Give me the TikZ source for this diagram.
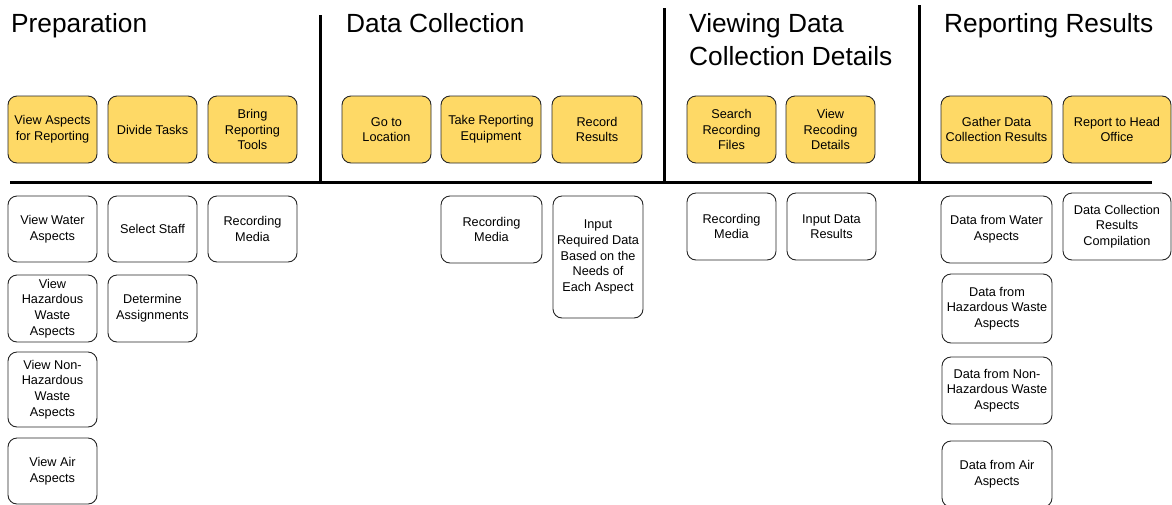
\documentclass[tikz,border=0pt]{standalone}
\usepackage{fontspec}
\setmainfont{Liberation Sans}
\begin{document}
\begin{tikzpicture}[x=1pt,y=-1pt,
  card/.style={draw=black!85, line width=0.9pt, rounded corners=9pt, align=center,
    inner sep=0pt, font=\fontsize{12.7}{15.6}\selectfont},
  ybox/.style={card, fill=ylw},
  wbox/.style={card, fill=white},
  title/.style={anchor=base west, inner sep=0pt, align=left, font=\fontsize{26.3}{33}\selectfont},
  sep/.style={line width=3pt, black}
]
\definecolor{ylw}{RGB}{254,217,102}
\useasboundingbox (0,0) rectangle (1172,504);

% titles
\node[title] (t1) at (11,32) {Preparation};
\node[title] (t2) at (346,32) {Data Collection};
\node[title] (t3) at (689,65) {Viewing Data\\Collection Details};
\node[title] (t4) at (944,32) {Reporting Results};

% separators
\coordinate (hl) at (10,182.5);
\coordinate (hr) at (1152,182.5);
\draw[sep] (hl) -- (hr);
\coordinate (v1t) at (320,15); \coordinate (v1b) at (320,183);
\coordinate (v2t) at (664,8);  \coordinate (v2b) at (664,183);
\coordinate (v3t) at (919,5);  \coordinate (v3b) at (919,182);
\draw[sep] (v1t) -- (v1b);
\draw[sep] (v2t) -- (v2b);
\draw[sep] (v3t) -- (v3b);

% yellow row
\node[ybox, minimum width=89, minimum height=67] (y1) at (52.5,129.5) {View Aspects\\for Reporting};
\node[ybox, minimum width=89, minimum height=67] (y2) at (152.5,129.5) {Divide Tasks};
\node[ybox, minimum width=89, minimum height=67] (y3) at (252.5,129.5) {Bring\\Reporting\\Tools};
\node[ybox, minimum width=89, minimum height=67] (y4) at (386.5,129.5) {Go to\\Location};
\node[ybox, minimum width=100, minimum height=67] (y5) at (491,129.5) {Take Reporting\\Equipment};
\node[ybox, minimum width=90, minimum height=67] (y6) at (597,129.5) {Record\\Results};
\node[ybox, minimum width=89, minimum height=67] (y7) at (731.5,129.5) {Search\\Recording\\Files};
\node[ybox, minimum width=89, minimum height=67] (y8) at (830.5,129.5) {View\\Recoding\\Details};
\node[ybox, minimum width=111, minimum height=67] (y9) at (996.5,129.5) {Gather Data\\Collection Results};
\node[ybox, minimum width=108, minimum height=67] (y10) at (1117,129.5) {Report to Head\\Office};

% Preparation white
\node[wbox, minimum width=89, minimum height=66] (p1) at (52.5,229) {View Water\\Aspects};
\node[wbox, minimum width=89, minimum height=67] (p2) at (52.5,308.5) {View\\Hazardous\\Waste\\Aspects};
\node[wbox, minimum width=89, minimum height=75] (p3) at (52.5,389.5) {View Non-\\Hazardous\\Waste\\Aspects};
\node[wbox, minimum width=89, minimum height=66] (p4) at (52.5,471) {View Air\\Aspects};
\node[wbox, minimum width=89, minimum height=66] (p5) at (152.5,229) {Select Staff};
\node[wbox, minimum width=89, minimum height=67] (p6) at (152.5,308.5) {Determine\\Assignments};
\node[wbox, minimum width=89, minimum height=66] (p7) at (252.5,229) {Recording\\Media};

% Data collection white
\node[wbox, minimum width=101, minimum height=67] (d1) at (491.5,229.5) {Recording\\Media};
\node[wbox, minimum width=90, minimum height=122] (d2) at (598,257) {Input\\Required Data\\Based on the\\Needs of\\Each Aspect};

% Viewing white
\node[wbox, minimum width=89, minimum height=67] (v1) at (731.5,226.5) {Recording\\Media};
\node[wbox, minimum width=89, minimum height=67] (v2) at (831.5,226.5) {Input Data\\Results};

% Reporting white
\node[wbox, minimum width=111, minimum height=67] (r1) at (996.5,229.5) {Data from Water\\Aspects};
\node[wbox, minimum width=108, minimum height=67] (r2) at (1117,226.5) {Data Collection\\Results\\Compilation};
\node[wbox, minimum width=110, minimum height=69] (r3) at (997,308.5) {Data from\\Hazardous Waste\\Aspects};
\node[wbox, minimum width=110, minimum height=67] (r4) at (997,390.5) {Data from Non-\\Hazardous Waste\\Aspects};
\node[wbox, minimum width=110, minimum height=66] (r5) at (997,474) {Data from Air\\Aspects};
\end{tikzpicture}
\end{document}
